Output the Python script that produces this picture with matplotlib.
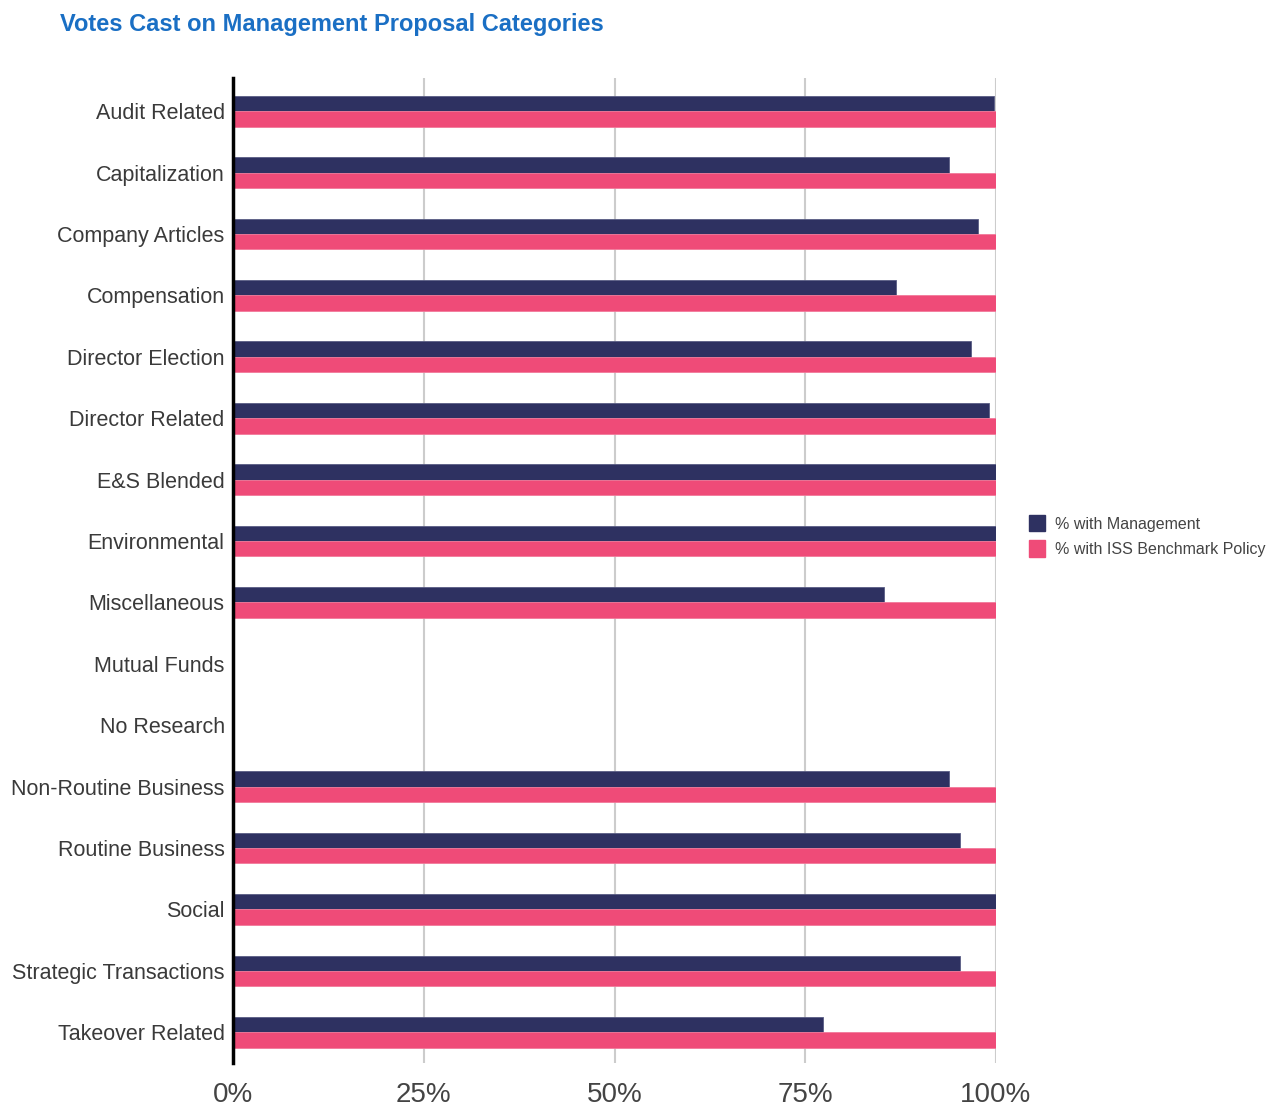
import matplotlib
matplotlib.use("Agg")
import matplotlib.pyplot as plt
import numpy as np
from matplotlib.patches import Patch

categories = ["Audit Related", "Capitalization", "Company Articles", "Compensation",
              "Director Election", "Director Related", "E&S Blended", "Environmental",
              "Miscellaneous", "Mutual Funds", "No Research", "Non-Routine Business",
              "Routine Business", "Social", "Strategic Transactions", "Takeover Related"]
pct_management = [99.7, 93.8, 97.6, 86.9, 96.7, 99.1, 100, 100, 85.3, np.nan, np.nan,
                  93.8, 95.3, 100, 95.3, 77.3]
pct_iss = [100, 100, 100, 100, 100, 100, 100, 100, 100, np.nan, np.nan,
           100, 100, 100, 100, 100]
series_labels = ["% with Management", "% with ISS Benchmark Policy"]
xticks = [0, 25, 50, 75, 100]
xtick_labels = ["0%", "25%", "50%", "75%", "100%"]

c_mgmt = "#2e3161"
c_iss = "#ef4b78"

plt.rcParams['font.family'] = ['Liberation Sans', 'DejaVu Sans']

fig = plt.figure(figsize=(12.66, 11.06), dpi=100)
ax = fig.add_axes([233/1266, 1-1063/1106, (996-233)/1266, (1063-78)/1106])

y = np.arange(len(categories))
h = 0.25
ax.barh(y - h/2, np.nan_to_num(pct_management), height=h, color=c_mgmt,
        edgecolor="#5a5d85", linewidth=0.6, label=series_labels[0], zorder=3)
ax.barh(y + h/2, np.nan_to_num(pct_iss), height=h, color=c_iss,
        edgecolor="#f27a9a", linewidth=0.6, label=series_labels[1], zorder=3)

ax.set_xlim(0, 100)
ax.set_ylim(len(categories) - 0.5, -0.54)
ax.set_yticks(y)
ax.set_yticklabels(categories, fontsize=15.5, color="#3a3a3a")
ax.set_xticks(xticks)
ax.set_xticklabels(xtick_labels, fontsize=20, color="#444444")
ax.tick_params(axis="both", length=0)
ax.tick_params(axis="x", pad=14)
ax.tick_params(axis="y", pad=6)
ax.grid(axis="x", color="#cccccc", linewidth=1.5, zorder=0)
ax.set_axisbelow(True)
for s in ["top", "right", "bottom"]:
    ax.spines[s].set_visible(False)
ax.spines["left"].set_color("black")
ax.spines["left"].set_linewidth(2.5)
ax.spines["left"].set_zorder(4)

fig.text(60/1266, 1-25/1106, "Votes Cast on Management Proposal Categories",
         fontsize=17, fontweight="bold", color="#1a6fc4", va="center", ha="left")

handles = [Patch(facecolor=c_mgmt, edgecolor=c_mgmt), Patch(facecolor=c_iss, edgecolor=c_iss)]
fig.legend(handles, series_labels, loc="center left",
           bbox_to_anchor=(1015/1266, 1-536/1106), frameon=False,
           fontsize=11.5, labelcolor="#444444", handlelength=1.0, handleheight=1.2,
           handletextpad=0.6, labelspacing=0.55)

fig.savefig("out.png", dpi=100, facecolor="white")
